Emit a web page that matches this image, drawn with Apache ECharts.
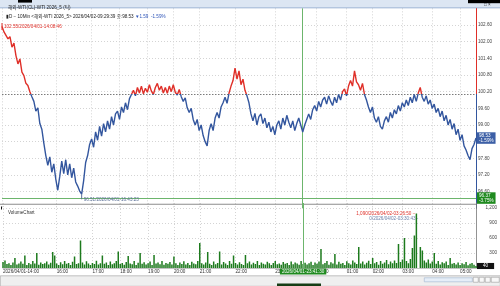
<!DOCTYPE html>
<html><head><meta charset="utf-8">
<script src="https://cdn.jsdelivr.net/npm/echarts@6/dist/echarts.min.js"></script>
<style>html,body{margin:0;padding:0;background:#fff}#c{width:500px;height:286px}</style>
</head><body><div id="c"></div>
<script>
// ---- data ----
const tickLabels = ['2026/04/01-14:00','16:00','17:00','18:00','19:00','20:00','21:00','22:00','23:00','00:00','01:00','02:00','03:00','04:00','05:00'];
const tickIndex  = [0,27,45,59,73,86,99,117,137,158,173,186,201,216,230];
const prevClose = 100.12;
const lastPrice = 98.53;
const crossIndex = 151;
const crossPrice = 96.37;
const crossTime = '2026/04/01-23:41:30';
const priceMaxTime = '2026/04/01-14:08:46';
const priceMinTime = '2026/04/01-16:43:23';
const volMaxTime = '2026/04/02-03:26:50';
const volMinTime = '2026/04/02-03:30:43';
const prices = [
102.55,102.35,102.42,102.10,102.18,101.80,101.95,101.50,101.20,101.38,
100.90,100.78,100.50,100.42,100.20,100.02,
99.85,99.50,99.62,99.05,98.85,98.35,97.90,97.55,97.85,97.30,
97.60,97.05,96.65,97.15,97.70,97.25,97.75,97.20,97.60,97.10,
97.45,96.95,96.80,96.62,96.51,97.00,97.65,97.90,98.30,
98.50,98.20,98.75,98.45,98.95,98.60,99.05,98.75,99.15,98.85,
99.30,99.00,99.40,99.50,99.20,99.65,99.45,99.80,99.55,99.95,
100.10,100.25,100.05,100.35,100.15,100.40,100.12,100.32,100.18,100.45,
100.22,100.10,100.35,100.50,100.25,100.40,100.15,100.35,100.14,100.40,
100.20,100.45,100.18,100.08,100.28,100.02,
99.85,99.98,99.62,99.45,99.60,99.20,99.00,99.20,98.80,99.00,98.62,98.40,98.25,
98.80,99.05,98.80,99.25,99.45,99.25,99.65,99.80,100.00,99.78,
100.15,100.40,100.60,101.05,100.65,100.95,100.45,100.65,100.25,100.05,99.80,
99.40,99.15,99.42,99.00,99.30,99.40,99.05,99.25,98.90,99.10,
98.75,98.95,98.65,99.00,99.15,98.85,99.25,99.00,99.35,99.10,
98.90,99.15,98.80,99.05,99.25,99.00,98.75,99.00,
99.20,99.40,99.20,99.55,99.70,99.50,99.85,99.65,99.90,100.00,
99.75,100.05,99.85,99.70,100.00,99.80,100.10,99.90,100.20,100.30,
100.05,100.40,100.60,100.40,100.95,100.55,100.45,100.25,100.50,
100.10,99.90,99.65,99.45,99.65,99.25,99.10,99.30,98.95,98.85,
99.15,99.30,99.10,99.45,99.25,99.55,99.40,99.70,99.50,99.80,
99.65,99.90,99.70,100.00,99.80,100.10,99.85,100.15,
100.35,100.00,99.85,100.05,99.75,99.90,99.60,99.75,99.45,99.60,
99.30,99.50,99.15,99.35,99.00,99.20,98.85,99.05,98.65,98.85,
98.45,98.65,98.25,98.10,97.90,97.75,98.15,98.30,98.53
];
const volumes = [
120,150,80,95,60,110,200,70,90,130,
85,250,60,100,75,140,90,300,65,110,
80,95,130,70,105,320,250,90,60,115,
75,140,85,100,60,125,230,80,95,550,
110,70,135,90,60,100,80,145,70,95,
250,85,110,60,130,75,95,140,330,80,
100,65,120,240,90,75,140,60,105,300,
85,115,70,95,130,60,260,90,110,75,
140,65,100,85,120,70,230,95,60,110,
80,135,70,100,60,125,90,75,140,500,
95,70,110,320,85,60,130,75,100,330,
70,120,90,60,140,85,250,100,70,115,
80,60,260,95,130,70,105,80,140,60,
110,85,70,125,95,60,100,140,75,90,
65,120,85,100,60,130,75,110,90,65,
140,80,105,70,95,125,60,110,85,130,
380,75,100,140,65,115,90,280,70,125,
85,100,60,135,95,70,150,110,80,420,
90,130,70,105,145,80,200,95,120,65,
140,85,110,160,75,130,95,150,100,480,
120,170,600,140,95,180,400,650,1090,0,
420,350,150,110,170,90,130,300,85,140,
70,115,95,130,60,200,85,100,70,110,
60,95,75,120,55,85,100,65,40
];

// ---- chart ----
const FONT = 'Liberation Sans, Arial, Noto Sans CJK KR, sans-serif';
const RED = '#df2f28', BLUE = '#33569e', GREEN = '#1d7a1d', XGREEN = '#6cb56c';
const cats = prices.map((_, i) => String(i));
const labelAt = {};
tickIndex.forEach((ix, k) => { labelAt[ix] = tickLabels[k]; });
const isTick = (i) => labelAt[i] !== undefined;
const lastIdx = prices.length - 1;
const chg = lastPrice - prevClose;
const crossChg = (crossPrice - prevClose) / prevClose * 100;
const fmtVol = v => v.toLocaleString('en-US');
const H = 286;

const chart = echarts.init(document.getElementById('c'), null, {renderer: 'canvas'});
const gridLine = {show: true, lineStyle: {color: '#d4d4d4', type: [1, 2], width: 1}};
const lbl = (extra) => Object.assign({fontSize: 4.6, fontFamily: FONT}, extra);
const option = {
  animation: false,
  textStyle: {fontFamily: FONT},
  title: [
    {text: '해외-WTI(CL)-WTI 2026_5 (틱)', left: 3, top: 0.5, z: 20,
     textStyle: {fontSize: 4.6, color: '#1a1a1a', fontWeight: 'normal', fontFamily: FONT}},
    {text: '{a|▮D − 10Min <해외-WTI 2026_5> 2026/04/02-09:29:39 종:' + lastPrice.toFixed(2) + '} {b|▼' + Math.abs(chg).toFixed(2) + '  ' + (chg / prevClose * 100).toFixed(2) + '%}',
     left: 1, top: 9, z: 20,
     textStyle: {fontSize: 4.6, fontWeight: 'normal', fontFamily: FONT,
       rich: {a: {fontSize: 4.6, color: '#222', fontFamily: FONT}, b: {fontSize: 4.6, color: '#2e55b8', fontFamily: FONT}}}},
    {text: 'VolumeChart', left: 3, top: 205.5, z: 20,
     textStyle: {fontSize: 4.6, color: '#333', fontWeight: 'normal', fontFamily: FONT}}
  ],
  graphic: [
    {type: 'rect', left: 0, top: 0, z: 1, shape: {width: 500, height: 7.5}, style: {fill: '#dce6f3'}},
    {type: 'rect', left: 0, top: 7.5, z: 1, shape: {width: 500, height: 0.8}, style: {fill: '#7d9bc6'}},
    {type: 'rect', left: 18, top: 0, z: 2, shape: {width: 14, height: 2.6}, style: {fill: '#000'}},
    {type: 'rect', left: 468, top: 0, z: 2, shape: {width: 32, height: 3.2}, style: {fill: '#000'}},
    {type: 'text', left: 484, top: 3, z: 3, style: {text: '□ ×', fontSize: 4.5, fill: '#222', fontFamily: FONT}},
    {type: 'rect', left: 0, top: 203.8, z: 3, shape: {width: 476, height: 0.9}, style: {fill: '#8c8c8c'}},
    {type: 'rect', left: 1, top: 206.5, z: 3, shape: {width: 1, height: 3}, style: {fill: '#111'}},
    {type: 'rect', left: 0, top: 275.5, z: 1, shape: {width: 500, height: 10.5}, style: {fill: '#efefef', stroke: '#9a9a9a', lineWidth: 0.6}},
    {type: 'rect', left: 424, top: 277.5, z: 2, shape: {width: 48, height: 4}, style: {fill: '#e6eef8', stroke: '#9fb3cf', lineWidth: 0.6}},
    {type: 'rect', left: 473, top: 277, z: 2, shape: {width: 5, height: 5}, style: {fill: '#f8f8f8', stroke: '#888', lineWidth: 0.5}},
    {type: 'rect', left: 479, top: 277, z: 2, shape: {width: 5, height: 5}, style: {fill: '#f8f8f8', stroke: '#888', lineWidth: 0.5}},
    {type: 'rect', left: 485, top: 277, z: 2, shape: {width: 5, height: 5}, style: {fill: '#f8f8f8', stroke: '#888', lineWidth: 0.5}},
    {type: 'rect', left: 491, top: 277, z: 2, shape: {width: 8, height: 5}, style: {fill: '#f8f8f8', stroke: '#888', lineWidth: 0.5}},
    {type: 'rect', left: 277, top: 283.5, z: 2, shape: {width: 44, height: 2.5}, style: {fill: '#163d16'}}
  ],
  grid: [
    {left: 2, right: 24, top: 8.33, height: 200},
    {left: 2, right: 24, top: 203, height: 65}
  ],
  xAxis: [
    {type: 'category', gridIndex: 0, data: cats, boundaryGap: false,
     axisLine: {show: false}, axisTick: {show: false}, axisLabel: {show: false},
     splitLine: Object.assign({interval: (i) => isTick(i)}, gridLine)},
    {type: 'category', gridIndex: 1, data: cats, boundaryGap: false,
     axisLine: {show: true, lineStyle: {color: '#9a9a9a', width: 0.6}}, axisTick: {show: false},
     axisLabel: lbl({show: true, interval: (i) => isTick(i), formatter: (v, i) => labelAt[i] || '',
       align: 'left', color: '#333', margin: 1.5}),
     splitLine: Object.assign({interval: (i) => isTick(i)}, gridLine)}
  ],
  yAxis: [
    {type: 'value', gridIndex: 0, position: 'right', min: 96, max: 103.2, interval: 0.6,
     axisLine: {show: true, lineStyle: {color: BLUE, width: 1}}, axisTick: {show: false},
     axisLabel: lbl({color: '#444', margin: 2, formatter: v => v.toFixed(2), showMinLabel: false, showMaxLabel: false}),
     splitLine: Object.assign({showMinLine: false, showMaxLine: false}, gridLine)},
    {type: 'value', gridIndex: 1, position: 'right', min: 0, max: 1300, interval: 300,
     axisLine: {show: true, lineStyle: {color: '#777', width: 0.8}}, axisTick: {show: false},
     axisLabel: lbl({color: '#444', margin: 21, align: 'right', formatter: v => fmtVol(v), showMinLabel: false, showMaxLabel: false}),
     splitLine: Object.assign({showMinLine: false, showMaxLine: false}, gridLine)}
  ],
  series: [
    {type: 'line', xAxisIndex: 0, yAxisIndex: 0, data: prices, showSymbol: false, z: 5,
     lineStyle: {width: 1.4, color: BLUE},
     markPoint: {
       symbol: 'rect',
       data: [
         {type: 'max', symbolSize: [1, 7], itemStyle: {color: RED},
          label: lbl({show: true, position: 'right', distance: 1.5, color: RED,
            formatter: p => p.value.toFixed(2) + '/' + priceMaxTime})},
         {type: 'min', symbolSize: [1, 5], symbolOffset: [0, 2.5], itemStyle: {color: '#5a6f96'},
          label: lbl({show: true, position: 'right', distance: 1.5, offset: [0, 3], color: '#5a6f96',
            formatter: p => p.value.toFixed(2) + '/' + priceMinTime})}
       ]
     },
     markLine: {
       symbol: ['none', 'none'], silent: true,
       data: [
         {yAxis: prevClose, lineStyle: {color: '#7a7a7a', type: [1.5, 1.5], width: 1}, label: {show: false}},
         {xAxis: crossIndex, lineStyle: {color: XGREEN, type: 'solid', width: 1}, label: {show: false}},
         {yAxis: crossPrice, lineStyle: {color: XGREEN, type: 'solid', width: 1},
          label: lbl({show: true, position: 'end', distance: 1, formatter: crossPrice.toFixed(2) + '\n' + crossChg.toFixed(2) + '%',
            backgroundColor: '#1f8a1f', color: '#fff', lineHeight: 5, padding: [1, 2, 0.5, 2]})},
         {yAxis: lastPrice, lineStyle: {color: 'rgba(0,0,0,0)', width: 0.1},
          label: lbl({show: true, position: 'end', distance: 1, formatter: lastPrice.toFixed(2) + '\n' + (chg / prevClose * 100).toFixed(2) + '%',
            backgroundColor: '#3c5fa6', color: '#fff', lineHeight: 5, padding: [1, 2, 0.5, 2]})}
       ]
     }
    },
    {type: 'bar', xAxisIndex: 1, yAxisIndex: 1, data: volumes, barWidth: 1.5, z: 4,
     itemStyle: {color: GREEN},
     markPoint: {
       symbol: 'rect', symbolSize: 0,
       data: [
         {type: 'max', label: lbl({show: true, position: 'left', distance: 1, offset: [0, 0.5], color: RED,
            formatter: p => fmtVol(p.value) + '/' + volMaxTime + ' −'})},
         {type: 'min', label: lbl({show: true, position: 'left', distance: 0, offset: [0, -49], color: '#6b7fa8',
            formatter: p => fmtVol(p.value) + '/' + volMinTime + ' -'})}
       ]
     },
     markLine: {
       symbol: ['none', 'none'], silent: true,
       data: [
         {xAxis: crossIndex, lineStyle: {color: XGREEN, type: 'solid', width: 1},
          label: lbl({show: true, position: 'start', distance: 0.5, formatter: crossTime,
            backgroundColor: '#1f8a1f', color: '#fff', padding: [1, 2, 0.5, 2]})},
         {yAxis: volumes[lastIdx], lineStyle: {color: 'rgba(0,0,0,0)', width: 0.1},
          label: lbl({show: true, position: 'end', distance: 1, formatter: String(volumes[lastIdx]),
            backgroundColor: '#111', color: '#fff', padding: [1, 6, 0.5, 6]})}
       ]
     }
    }
  ]
};
chart.setOption(option);

// colour the price line and the price axis red above the previous close, blue below
const yPc = chart.convertToPixel({yAxisIndex: 0}, prevClose);
const f = yPc / H;
const splitGrad = () => new echarts.graphic.LinearGradient(0, 0, 0, H, [
  {offset: 0, color: RED}, {offset: f, color: RED}, {offset: f, color: BLUE}, {offset: 1, color: BLUE}
], true);
chart.setOption({
  yAxis: [{axisLine: {lineStyle: {color: splitGrad()}}}, {}],
  series: [{lineStyle: {color: splitGrad()}}, {}]
});
</script></body></html>
